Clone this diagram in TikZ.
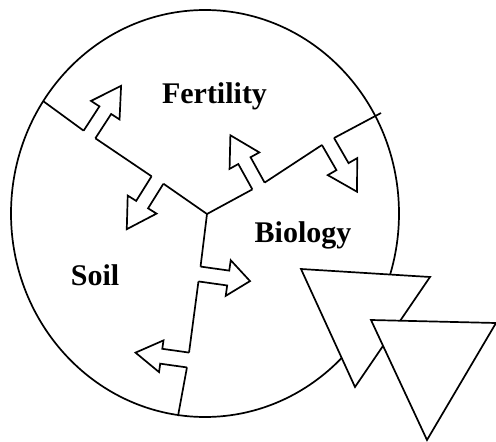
\documentclass[tikz,border=0pt]{standalone}
\usepackage{fontspec}
\setmainfont{Liberation Serif}
\begin{document}
\begin{tikzpicture}[x=1pt,y=-1pt,line width=1.7pt,
  topic/.style={font=\fontsize{30}{32}\selectfont\bfseries,anchor=base,inner sep=0pt}]
  \useasboundingbox (0,0) rectangle (496,442);
  \draw (205,213.5) ellipse [x radius=194, y radius=203.5];
  \coordinate (hub) at (207,214);
  \coordinate (fertEnd) at (43,101);
  \coordinate (bioEnd) at (381,113);
  \coordinate (soilEnd) at (178,416);
  % arm towards fertility
  \begin{scope}[shift={(89.5,134.5)},rotate=57]
    \draw (0,-7) coordinate (fa1) -- (29,-7) -- (29,-17) -- (58,0) -- (29,17) -- (29,7) -- (0,7) coordinate (fa2);
  \end{scope}
  \begin{scope}[shift={(157.5,180)},rotate=238]
    \draw (0,-7) coordinate (fb1) -- (29,-7) -- (29,-17) -- (58,0) -- (29,17) -- (29,7) -- (0,7) coordinate (fb2);
  \end{scope}
  \draw (fertEnd) -- (fa1); \draw (fa2) -- (fb2); \draw (fb1) -- (hub);
  % arm towards biology
  \begin{scope}[shift={(258.5,186)},rotate=119]
    \draw (0,-7) coordinate (ba1) -- (29,-7) -- (29,-17) -- (58,0) -- (29,17) -- (29,7) -- (0,7) coordinate (ba2);
  \end{scope}
  \begin{scope}[shift={(328,141.5)},rotate=-60]
    \draw (0,-7) coordinate (bb1) -- (29,-7) -- (29,-17) -- (58,0) -- (29,17) -- (29,7) -- (0,7) coordinate (bb2);
  \end{scope}
  \draw (hub) -- (ba1); \draw (ba2) -- (bb2); \draw (bb1) -- (bioEnd);
  % arm towards soil
  \begin{scope}[shift={(199.5,274)},rotate=-8]
    \draw (0,-7.5) coordinate (sa1) -- (29,-7.5) -- (29,-18) -- (51,0) -- (29,18) -- (29,7.5) -- (0,7.5) coordinate (sa2);
  \end{scope}
  \begin{scope}[shift={(188,360)},rotate=172]
    \draw (0,-7.5) coordinate (sb1) -- (27,-7.5) -- (27,-16) -- (53,0) -- (27,16) -- (27,7.5) -- (0,7.5) coordinate (sb2);
  \end{scope}
  \draw (hub) -- (sa1); \draw (sa2) -- (sb2); \draw (sb1) -- (soilEnd);
  \node[topic] (fert) at (214.5,103) {Fertility};
  \node[topic] (bio) at (303,242) {Biology};
  \node[topic] (soil) at (95,285) {Soil};
  \draw[fill=white] (301,269) -- (430,277) -- (355,387) -- cycle;
  \draw[fill=white] (371,320) -- (496,323) -- (427,440) -- cycle;
\end{tikzpicture}
\end{document}
